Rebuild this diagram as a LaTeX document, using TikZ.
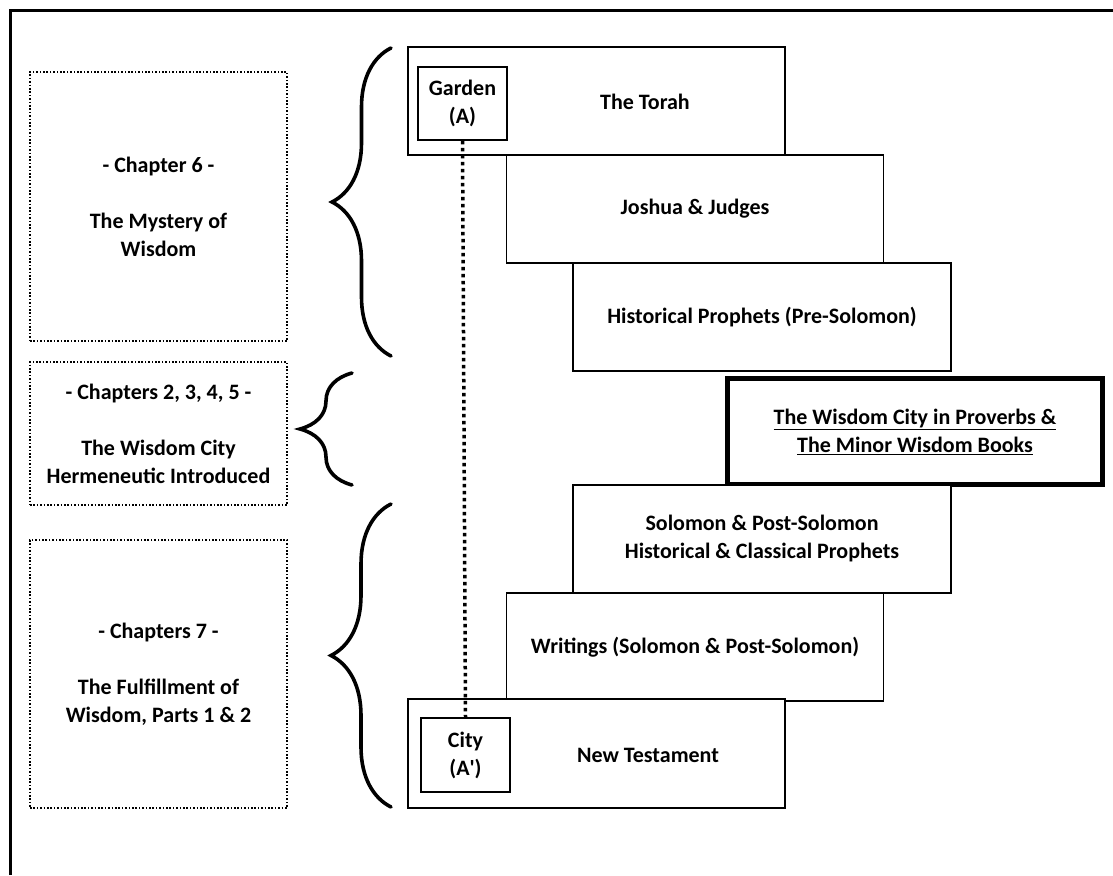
\documentclass[tikz,border=0pt]{standalone}
\usepackage{fontspec}
\setmainfont{Carlito}
\usepackage{tikz}
\usetikzlibrary{positioning, calc, decorations.pathreplacing}
\definecolor{myink}{RGB}{0,0,0}

\begin{document}
\begin{tikzpicture}[x=1pt, y=-1pt,
    font=\fontsize{22}{28}\selectfont\bfseries,
    book/.style={draw=myink, line width=1.6pt, fill=white, minimum width=377pt, minimum height=108pt, align=center, inner sep=0pt},
    tag/.style={draw=myink, line width=1.6pt, fill=white, minimum width=89pt, minimum height=73pt, align=center, inner sep=0pt},
    chap/.style={draw=myink, line width=1.6pt, dash pattern=on 1.6pt off 1.8pt, minimum width=257pt, align=center, inner sep=0pt},
    grp/.style={decorate, decoration={brace, amplitude=#1}, line width=3.6pt, line cap=round}]
    \useasboundingbox (0,0) rectangle (1113,875);

    % outer frame
    \draw[line width=3pt, myink] (10,875) -- (10,11) -- (1113,11);

    % the books, top to bottom
    \node[book] (torah) at (596.5,101) {};
    \node[book] (joshua) at (695,209) {Joshua \& Judges};
    \node[book, minimum width=378pt] (histpre) at (762,317) {Historical Prophets (Pre-Solomon)};
    \node[book, line width=5pt, minimum width=375pt, minimum height=106pt] (wcity) at (915,431.5)
        {\underline{The Wisdom City in Proverbs \&}\\\underline{The Minor Wisdom Books}};
    \node[book, minimum width=378pt] (solpost) at (762,539) {Solomon \& Post-Solomon\\Historical \& Classical Prophets};
    \node[book] (writings) at (695,647) {Writings (Solomon \& Post-Solomon)};
    \node[book, minimum height=109pt] (newtest) at (596.5,753.5) {};

    % garden and city
    \node[tag] (garden) at (462.5,103.5) {Garden\\(A)};
    \node (torahlbl) at (645,102) {The Torah};
    \node[tag, minimum height=74pt] (city) at (465.5,755) {City\\(A\textquotesingle)};
    \node (ntlbl) at (648,755) {New Testament};
    \draw[line width=3.5pt, dash pattern=on 3.5pt off 3.5pt] (garden.south) -- (city.north);

    % chapters on the left
    \node[chap, minimum height=269pt] (chsix) at (158.5,206.5) {- Chapter 6 -\\~\\The Mystery of\\Wisdom};
    \node[chap, minimum height=143pt] (chtwo) at (158.5,433.5) {- Chapters 2, 3, 4, 5 -\\~\\The Wisdom City\\Hermeneutic Introduced};
    \node[chap, minimum height=268pt] (chseven) at (158.5,674) {- Chapters 7 -\\~\\The Fulfillment of\\Wisdom, Parts 1 \& 2};

    % braces
    \draw[grp=59pt] (391,356) -- (391,48);
    \draw[grp=52pt] (352,485) -- (352,373);
    \draw[grp=60pt] (391,807) -- (391,504);
\end{tikzpicture}
\end{document}
